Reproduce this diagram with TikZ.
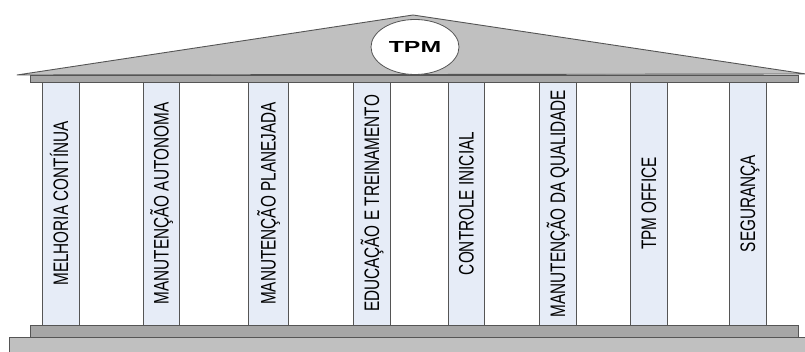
\documentclass[tikz,border=0pt]{standalone}
\usepackage{fontspec}
\usetikzlibrary{shapes.geometric}
\setmainfont{Liberation Sans}
\newfontfamily\narrowfont[FakeStretch=0.73]{Liberation Sans}
\definecolor{roofgray}{HTML}{C0C0C0}
\definecolor{stripgray}{HTML}{A6A6A6}
\definecolor{colblue}{HTML}{E6ECF7}
\definecolor{edgegray}{HTML}{555555}
\tikzset{
  colbox/.style={draw=edgegray, line width=0.9pt, fill=colblue, rotate=90,
    minimum width=243pt, inner sep=0pt, text height=15pt, text depth=0pt,
    font=\narrowfont\fontsize{21}{22}\selectfont},
  slab/.style={draw=edgegray, line width=0.9pt},
}
\begin{document}
\begin{tikzpicture}[x=1pt,y=-1pt]
\useasboundingbox (0,0) rectangle (805,352);
% roof
\draw[slab, fill=roofgray, line join=round] (17,75) -- (413,15) -- (806,74) -- cycle;
\node[draw=edgegray, line width=0.8pt, fill=white, ellipse, minimum width=88pt, minimum height=55pt, inner sep=0pt] (tpm) at (415,47) {};
\node[inner sep=0pt, font=\bfseries\fontsize{16}{17}\selectfont] (tpmtext) at (tpm.center) {\scalebox{1.55}[1]{TPM}};
% entablature
\draw[slab, fill=stripgray] (30,75) rectangle (798,82);
% base
\draw[slab, fill=stripgray] (30,325) rectangle (798,337);
\draw[slab, fill=roofgray] (9,337) rectangle (810,356);
% columns
\node[colbox, minimum height=37pt] (c1) at (60.5,203.5) {MELHORIA CONTÍNUA};
\node[colbox, minimum height=36pt] (c2) at (161,203.5) {MANUTENÇÃO AUTONOMA};
\node[colbox, minimum height=40pt] (c3) at (268,203.5) {MANUTENÇÃO PLANEJADA};
\node[colbox, minimum height=37pt] (c4) at (371.5,203.5) {EDUCAÇÃO E TREINAMENTO};
\node[colbox, minimum height=36pt] (c5) at (466,203.5) {CONTROLE INICIAL};
\node[colbox, minimum height=37pt] (c6) at (557.5,203.5) {MANUTENÇÃO DA QUALIDADE};
\node[colbox, minimum height=37pt] (c7) at (648.5,203.5) {TPM OFFICE};
\node[colbox, minimum height=37pt] (c8) at (747.5,203.5) {SEGURANÇA};
\end{tikzpicture}
\end{document}
